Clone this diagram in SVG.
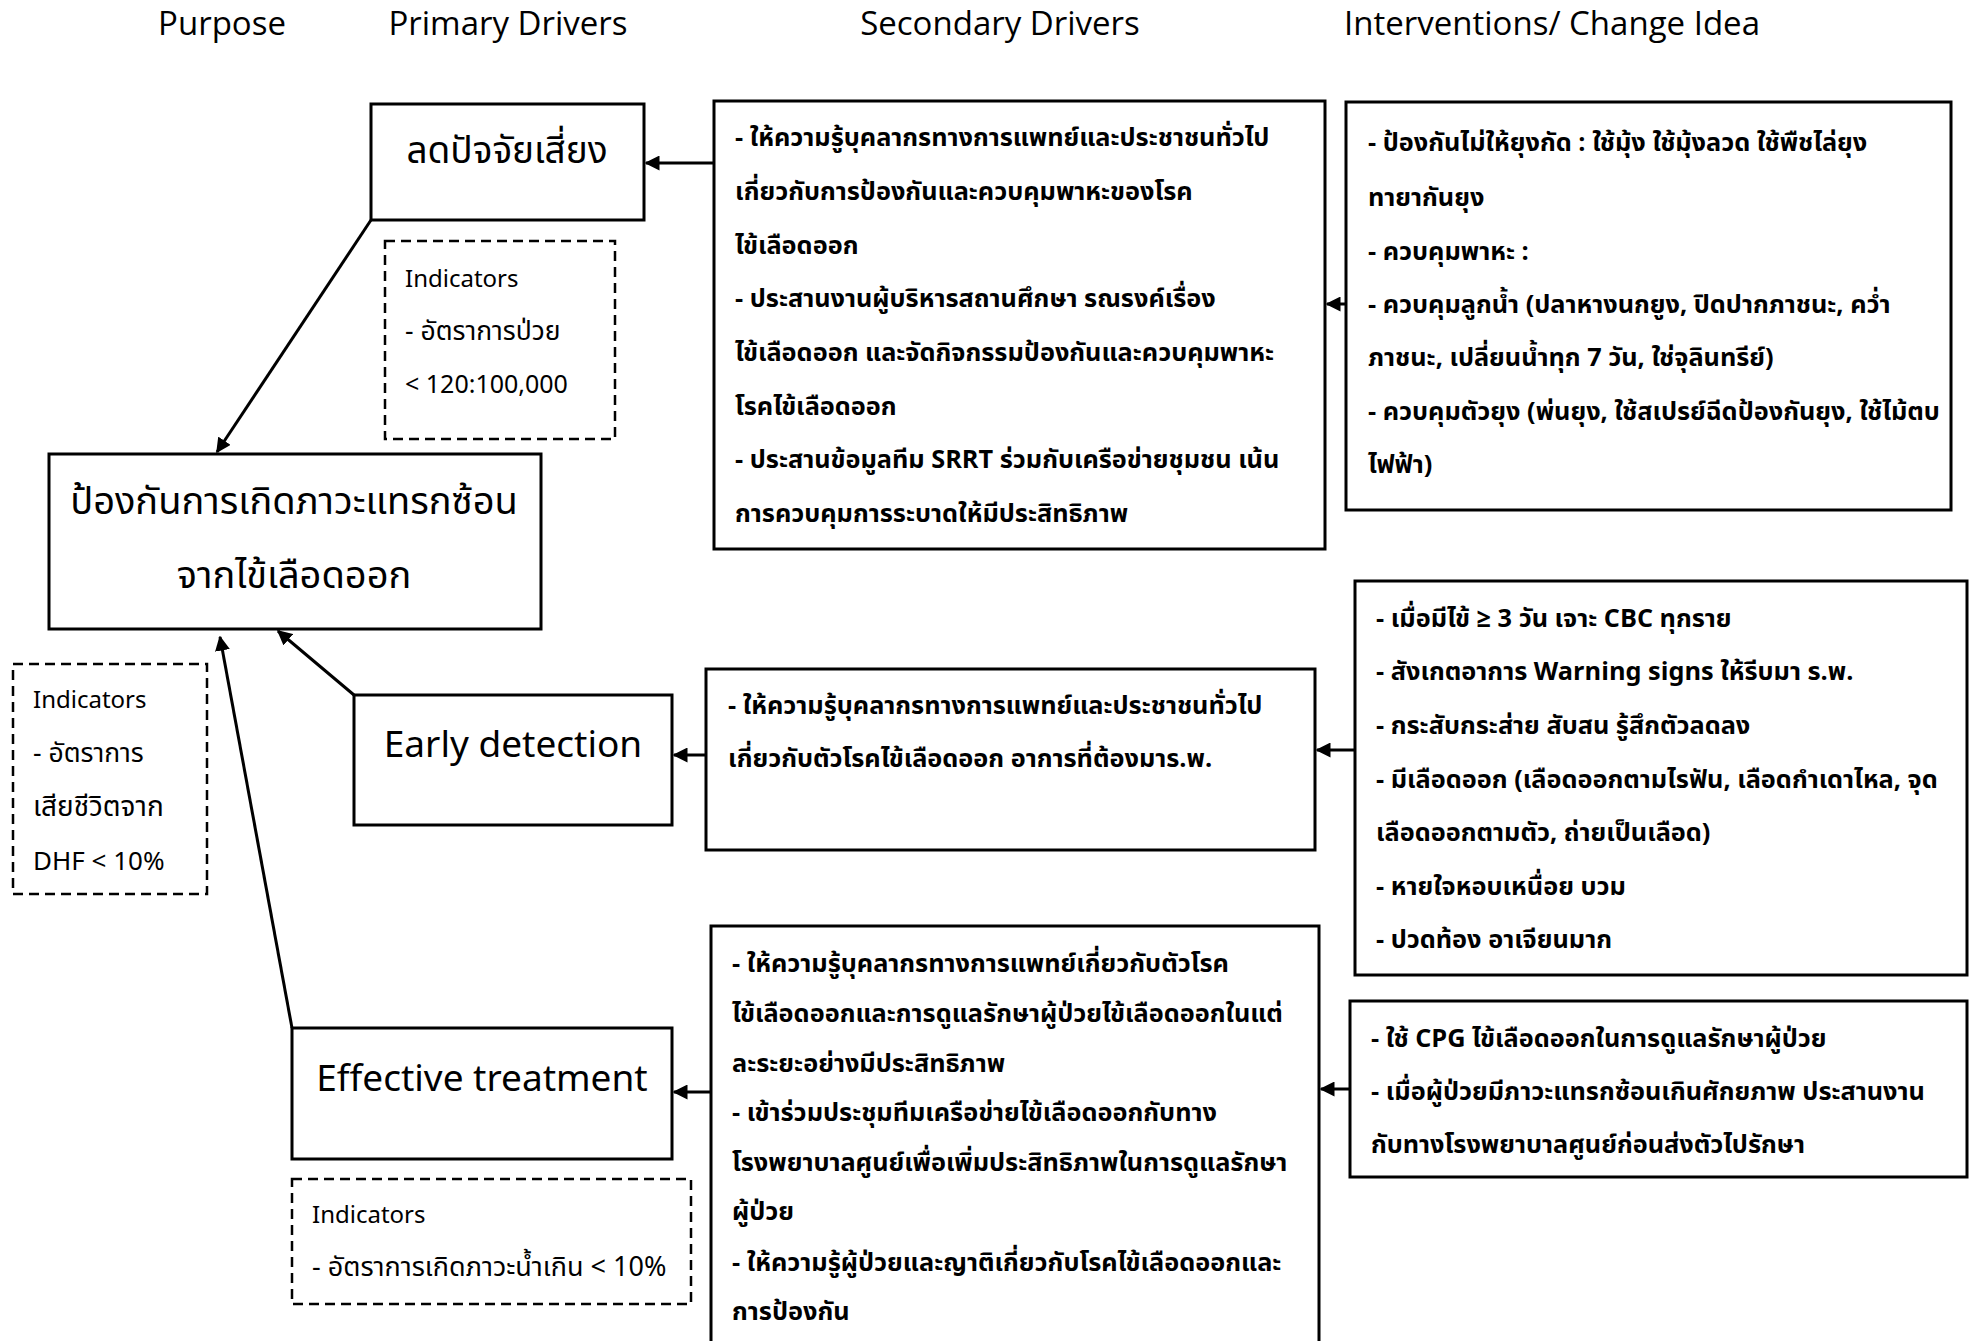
<svg xmlns="http://www.w3.org/2000/svg" width="1971" height="1341" viewBox="0 0 1971 1341">
<defs>
<style>
.hdr{font-family:"Open Sans","Noto Sans",sans-serif;font-size:33px;text-anchor:middle;fill:#000}
.box{fill:#fff;stroke:#000;stroke-width:3}
.dash{fill:#fff;stroke:#000;stroke-width:2.5;stroke-dasharray:10 6}
.t{font-family:"Noto Sans Thai","Noto Sans","Open Sans",sans-serif;font-size:25.3px;font-weight:bold;fill:#000}
.ind{font-family:"Noto Sans Thai","Noto Sans","Open Sans",sans-serif;font-size:24px;fill:#000}
.indth{font-size:26.5px}
.big{font-family:"Noto Sans Thai","Noto Sans","Open Sans",sans-serif;font-size:36px;fill:#000;text-anchor:middle}
.conn{stroke:#000;stroke-width:3;fill:none;marker-end:url(#ah)}
</style>
<marker id="ah" viewBox="0 0 10 10" refX="9" refY="5" markerWidth="5" markerHeight="5" orient="auto" markerUnits="strokeWidth">
<path d="M0,0 L10,5 L0,10 z" fill="#000"/>
</marker>
</defs>
<rect width="1971" height="1341" fill="#fff"/>
<g id="headers">
<text class="hdr" x="222" y="35">Purpose</text>
<text class="hdr" x="508" y="35">Primary Drivers</text>
<text class="hdr" x="1000" y="35">Secondary Drivers</text>
<text class="hdr" x="1552" y="35">Interventions/ Change Idea</text>
</g>
<g id="purpose">
<rect class="box" x="49" y="454" width="492" height="175"/>
<text class="big" x="294" y="514" style="font-size:38px">ป้องกันการเกิดภาวะแทรกซ้อน</text>
<text class="big" x="294" y="588" style="font-size:38px">จากไข้เลือดออก</text>
</g>
<g id="purpose-indicators">
<rect class="dash" x="13" y="664" width="194" height="230"/>
<text class="ind" x="33" y="708">Indicators</text>
<text class="ind indth" x="33" y="762">- อัตราการ</text>
<text class="ind indth" x="33" y="816" style="font-size:28px">เสียชีวิตจาก</text>
<text class="ind" x="33" y="870" style="font-size:26px">DHF &lt; 10%</text>
</g>
<g id="driver-risk">
<rect class="box" x="371" y="104" width="273" height="116"/>
<text class="big" x="507" y="163" style="font-size:37px">ลดปัจจัยเสี่ยง</text>
</g>
<g id="risk-indicators">
<rect class="dash" x="385" y="241" width="230" height="198"/>
<text class="ind" x="405" y="287">Indicators</text>
<text class="ind indth" x="405" y="340">- อัตราการป่วย</text>
<text class="ind" x="405" y="393" style="font-size:25px">&lt; 120:100,000</text>
</g>
<g id="driver-early">
<rect class="box" x="354" y="695" width="318" height="130"/>
<text class="big" x="513" y="757" style="font-size:37px">Early detection</text>
</g>
<g id="driver-effective">
<rect class="box" x="292" y="1028" width="380" height="131"/>
<text class="big" x="482" y="1091" style="font-size:37px">Effective treatment</text>
</g>
<g id="effective-indicators">
<rect class="dash" x="292" y="1179" width="399" height="125"/>
<text class="ind" x="312" y="1223">Indicators</text>
<text class="ind" x="312" y="1276" style="font-size:27px">- อัตราการเกิดภาวะน้ำเกิน &lt; 10%</text>
</g>
<g id="secondary-1">
<rect class="box" x="714" y="101" width="611" height="448"/>
<text class="t" x="735" y="146">- ให้ความรู้บุคลากรทางการแพทย์และประชาชนทั่วไป</text>
<text class="t" x="735" y="200">เกี่ยวกับการป้องกันและควบคุมพาหะของโรค</text>
<text class="t" x="735" y="254">ไข้เลือดออก</text>
<text class="t" x="735" y="307">- ประสานงานผู้บริหารสถานศึกษา รณรงค์เรื่อง</text>
<text class="t" x="735" y="361">ไข้เลือดออก และจัดกิจกรรมป้องกันและควบคุมพาหะ</text>
<text class="t" x="735" y="415">โรคไข้เลือดออก</text>
<text class="t" x="735" y="468">- ประสานข้อมูลทีม SRRT ร่วมกับเครือข่ายชุมชน เน้น</text>
<text class="t" x="735" y="522">การควบคุมการระบาดให้มีประสิทธิภาพ</text>
</g>
<g id="secondary-2">
<rect class="box" x="706" y="669" width="609" height="181"/>
<text class="t" x="728" y="714">- ให้ความรู้บุคลากรทางการแพทย์และประชาชนทั่วไป</text>
<text class="t" x="728" y="767">เกี่ยวกับตัวโรคไข้เลือดออก อาการที่ต้องมาร.พ.</text>
</g>
<g id="secondary-3">
<rect class="box" x="711" y="926" width="608" height="440"/>
<text class="t" x="732" y="972">- ให้ความรู้บุคลากรทางการแพทย์เกี่ยวกับตัวโรค</text>
<text class="t" x="732" y="1022">ไข้เลือดออกและการดูแลรักษาผู้ป่วยไข้เลือดออกในแต่</text>
<text class="t" x="732" y="1072">ละระยะอย่างมีประสิทธิภาพ</text>
<text class="t" x="732" y="1121">- เข้าร่วมประชุมทีมเครือข่ายไข้เลือดออกกับทาง</text>
<text class="t" x="732" y="1171">โรงพยาบาลศูนย์เพื่อเพิ่มประสิทธิภาพในการดูแลรักษา</text>
<text class="t" x="732" y="1220">ผู้ป่วย</text>
<text class="t" x="732" y="1271">- ให้ความรู้ผู้ป่วยและญาติเกี่ยวกับโรคไข้เลือดออกและ</text>
<text class="t" x="732" y="1320">การป้องกัน</text>
</g>
<g id="intervention-1">
<rect class="box" x="1346" y="102" width="605" height="408"/>
<text class="t" x="1368" y="151">- ป้องกันไม่ให้ยุงกัด : ใช้มุ้ง ใช้มุ้งลวด ใช้พืชไล่ยุง</text>
<text class="t" x="1368" y="206">ทายากันยุง</text>
<text class="t" x="1368" y="260">- ควบคุมพาหะ :</text>
<text class="t" x="1368" y="313">- ควบคุมลูกน้ำ (ปลาหางนกยูง, ปิดปากภาชนะ, คว่ำ</text>
<text class="t" x="1368" y="366">ภาชนะ, เปลี่ยนน้ำทุก 7 วัน, ใช่จุลินทรีย์)</text>
<text class="t" x="1368" y="420">- ควบคุมตัวยุง (พ่นยุง, ใช้สเปรย์ฉีดป้องกันยุง, ใช้ไม้ตบ</text>
<text class="t" x="1368" y="473">ไฟฟ้า)</text>
</g>
<g id="intervention-2">
<rect class="box" x="1355" y="581" width="612" height="394"/>
<text class="t" x="1376" y="627">- เมื่อมีไข้ ≥ 3 วัน เจาะ CBC ทุกราย</text>
<text class="t" x="1376" y="680">- สังเกตอาการ Warning signs ให้รีบมา ร.พ.</text>
<text class="t" x="1376" y="734">- กระสับกระส่าย สับสน รู้สึกตัวลดลง</text>
<text class="t" x="1376" y="788">- มีเลือดออก (เลือดออกตามไรฟัน, เลือดกำเดาไหล, จุด</text>
<text class="t" x="1376" y="841">เลือดออกตามตัว, ถ่ายเป็นเลือด)</text>
<text class="t" x="1376" y="895">- หายใจหอบเหนื่อย บวม</text>
<text class="t" x="1376" y="948">- ปวดท้อง อาเจียนมาก</text>
</g>
<g id="intervention-3">
<rect class="box" x="1350" y="1001" width="617" height="176"/>
<text class="t" x="1371" y="1047">- ใช้ CPG ไข้เลือดออกในการดูแลรักษาผู้ป่วย</text>
<text class="t" x="1371" y="1100">- เมื่อผู้ป่วยมีภาวะแทรกซ้อนเกินศักยภาพ ประสานงาน</text>
<text class="t" x="1371" y="1153">กับทางโรงพยาบาลศูนย์ก่อนส่งตัวไปรักษา</text>
</g>
<g id="connectors">
<line class="conn" x1="1346" y1="304" x2="1327" y2="304"/>
<line class="conn" x1="714" y1="163" x2="646" y2="163"/>
<line class="conn" x1="371" y1="220" x2="217" y2="452"/>
<line class="conn" x1="354" y1="695" x2="278" y2="631"/>
<line class="conn" x1="292" y1="1028" x2="220" y2="637"/>
<line class="conn" x1="706" y1="755" x2="674" y2="755"/>
<line class="conn" x1="1355" y1="750" x2="1317" y2="750"/>
<line class="conn" x1="711" y1="1092" x2="674" y2="1092"/>
<line class="conn" x1="1350" y1="1089" x2="1321" y2="1089"/>
</g>
</svg>
